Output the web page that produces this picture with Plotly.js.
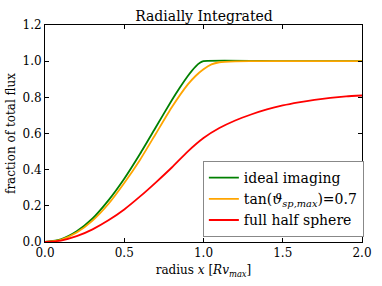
<!DOCTYPE html>
<html>
<head>
<meta charset="utf-8">
<script src="https://cdn.plot.ly/plotly-3.0.1.min.js"></script>
<style>html,body{margin:0;padding:0;background:#fff;}#chart{width:382px;height:286px;}</style>
</head>
<body>
<div id="chart"></div>
<script>
var idealX = [0, 0.1, 0.2, 0.3, 0.4, 0.5, 0.6, 0.7, 0.8, 0.85, 0.9, 0.95, 0.98, 1.0, 1.5, 2.0];
var idealY = [0, 0.015, 0.059, 0.13, 0.23, 0.35, 0.488, 0.636, 0.784, 0.853, 0.917, 0.97, 0.992, 1.0, 1.0, 1.0];

var tanX = [0, 0.1, 0.2, 0.3, 0.4, 0.5, 0.6, 0.7, 0.8, 0.9, 0.95, 1.0, 1.05, 1.1, 1.2, 1.3, 2.0];
var tanY = [0, 0.012, 0.052, 0.118, 0.21, 0.326, 0.455, 0.6, 0.745, 0.87, 0.918, 0.955, 0.982, 0.994, 0.999, 1.0, 1.0];

var halfX = [0, 0.1, 0.2, 0.3, 0.4, 0.5, 0.6, 0.7, 0.8, 0.9, 1.0, 1.1, 1.2, 1.3, 1.4, 1.5, 1.6, 1.7, 1.8, 1.9, 2.0];
var halfY = [0, 0.008, 0.032, 0.07, 0.12, 0.18, 0.252, 0.33, 0.412, 0.5, 0.575, 0.63, 0.672, 0.705, 0.733, 0.755, 0.772, 0.786, 0.797, 0.805, 0.81];

var names = ['ideal imaging', 'tan(<i>ϑ</i><sub><i>sp,max</i></sub>)=0.7', 'full half sphere'];
var xTicks = [0, 0.5, 1.0, 1.5, 2.0];
var yTicks = [0, 0.2, 0.4, 0.6, 0.8, 1.0, 1.2];

var F = '"DejaVu Serif", "Liberation Serif", serif';
var traces = [
  {x: idealX, y: idealY, name: names[0], mode: 'lines', line: {color: '#008000', width: 1.8, shape: 'spline', smoothing: 0.6}},
  {x: tanX, y: tanY, name: names[1], mode: 'lines', line: {color: '#FFA500', width: 1.8, shape: 'spline', smoothing: 0.6}},
  {x: halfX, y: halfY, name: names[2], mode: 'lines', line: {color: '#FF0000', width: 1.8, shape: 'spline', smoothing: 0.6}}
];
var layout = {
  width: 382, height: 286,
  margin: {l: 45, r: 20, t: 25, b: 44},
  paper_bgcolor: '#fff', plot_bgcolor: '#fff',
  font: {family: F, size: 12, color: '#000'},
  title: {text: 'Radially Integrated', font: {family: F, size: 14, color: '#000'}, x: 0.534, xanchor: 'center', y: 0.945, yanchor: 'middle'},
  showlegend: true,
  legend: {x: 0.498, y: 0.023, xanchor: 'left', yanchor: 'bottom', bgcolor: '#fff', bordercolor: '#888', borderwidth: 1,
           font: {family: F, size: 14, color: '#000'}, tracegroupgap: 0, itemwidth: 30},
  xaxis: {range: [0, 2], tickvals: xTicks, ticktext: xTicks.map(function(v){return v.toFixed(1);}),
          ticks: 'inside', ticklen: 4, tickcolor: '#000', showline: true, linecolor: '#000', linewidth: 1,
          mirror: 'allticks', showgrid: false, zeroline: false, tickfont: {family: F, size: 12},
          title: {text: 'radius <i>x</i> [<i>Rv</i><sub><i>max</i></sub>]', font: {family: F, size: 12}, standoff: 6}},
  yaxis: {range: [0, 1.2], tickvals: yTicks, ticktext: yTicks.map(function(v){return v.toFixed(1);}),
          ticks: 'inside', ticklen: 4, tickcolor: '#000', showline: true, linecolor: '#000', linewidth: 1,
          mirror: 'allticks', showgrid: false, zeroline: false, tickfont: {family: F, size: 12},
          title: {text: 'fraction of total flux', font: {family: F, size: 12}, standoff: 4}}
};
Plotly.newPlot('chart', traces, layout, {displayModeBar: false, staticPlot: true});
</script>
</body>
</html>
